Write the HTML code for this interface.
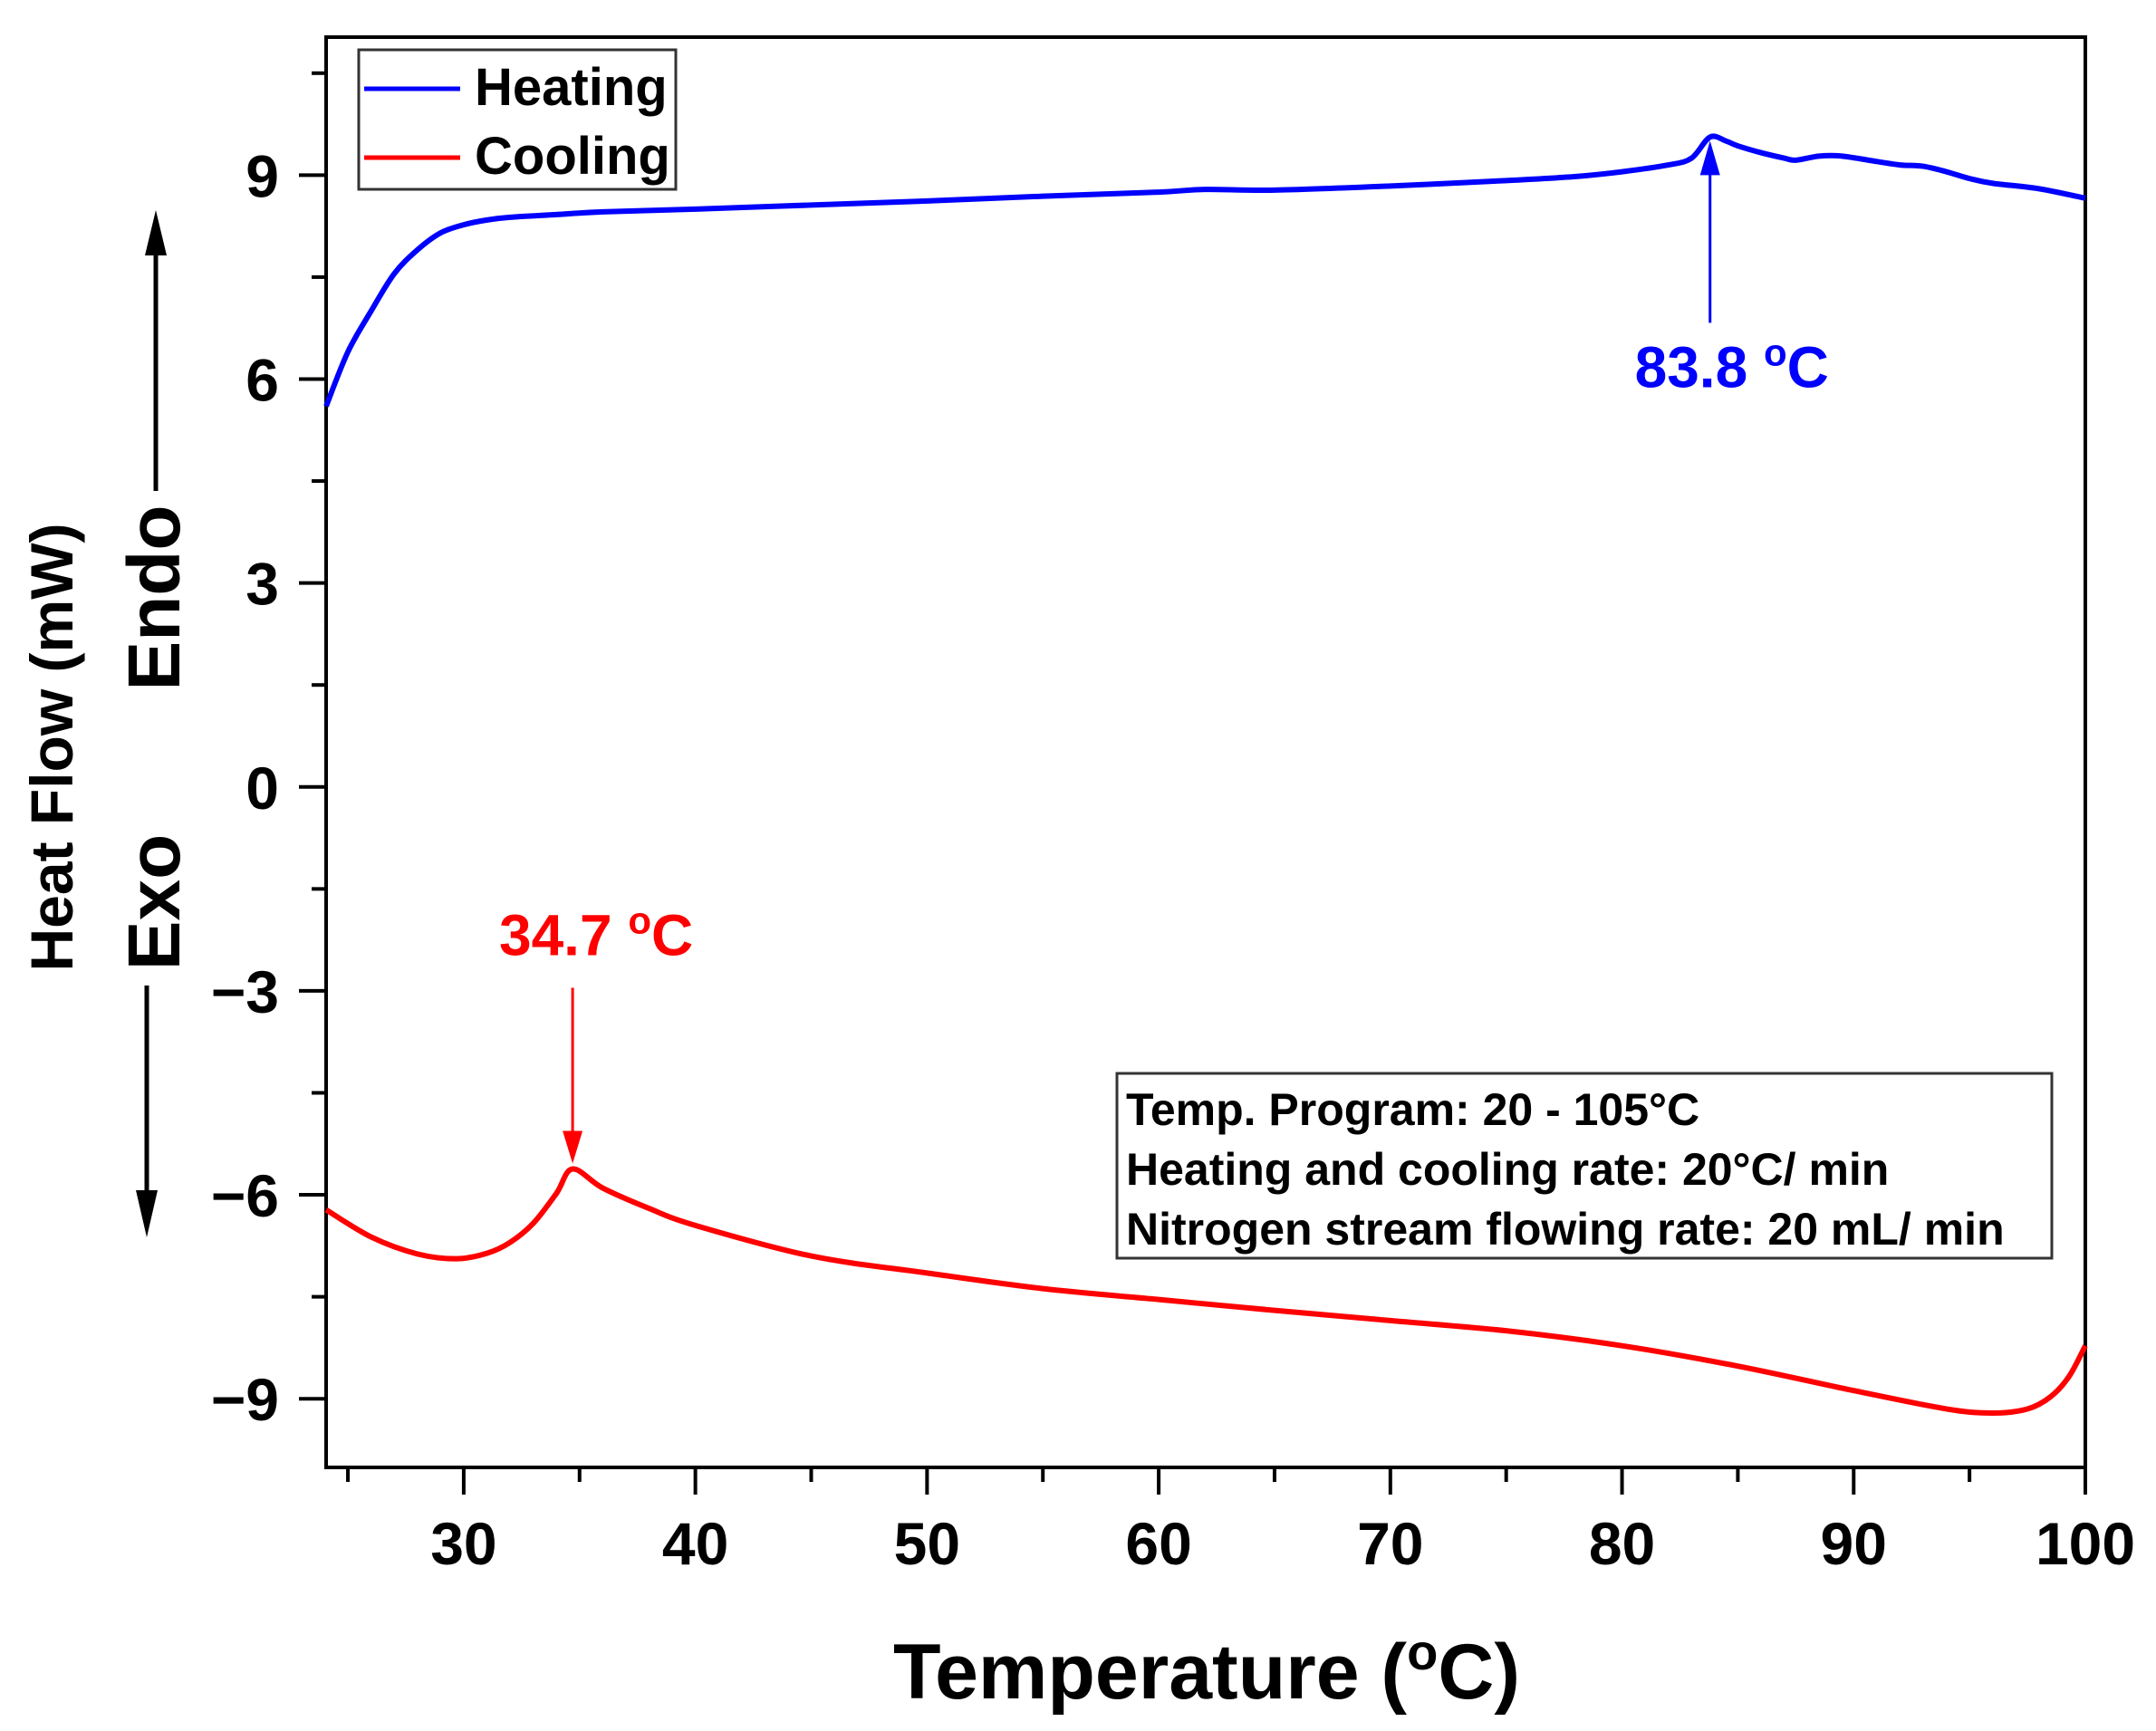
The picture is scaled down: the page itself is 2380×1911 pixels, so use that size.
<!DOCTYPE html>
<html><head><meta charset="utf-8"><style>
html,body{margin:0;padding:0;background:#fff;}
svg{display:block;font-family:"Liberation Sans",Arial,sans-serif;font-weight:bold;}
</style></head><body>
<svg id="chart" width="2380" height="1911" viewBox="0 0 2380 1911" xmlns="http://www.w3.org/2000/svg">
<g id="plot"></g>
<text x="1332" y="1875" font-size="86" text-anchor="middle">Temperature (<tspan font-size="56" dy="-32">o</tspan><tspan dy="32">C)</tspan></text>
<text transform="translate(80,825) rotate(-90)" font-size="66" text-anchor="middle">Heat Flow (mW)</text>
<text transform="translate(198,660) rotate(-90)" font-size="82" text-anchor="middle">Endo</text>
<text transform="translate(198,996) rotate(-90)" font-size="82" text-anchor="middle">Exo</text>
<g>
<line x1="172" y1="542" x2="172" y2="270" stroke="#000" stroke-width="5"/>
<path d="M160,282 L172,232 L184,282 Z" fill="#000"/>
</g>
<g>
<line x1="162" y1="1088" x2="162" y2="1325" stroke="#000" stroke-width="5"/>
<path d="M150,1314 L162,1366 L174,1314 Z" fill="#000"/>
</g>
<g>
<rect x="396" y="55" width="350" height="154" fill="#fff" stroke="#333" stroke-width="3"/>
<line x1="402" y1="98" x2="508" y2="98" stroke="#0000ff" stroke-width="5"/>
<text x="524" y="116" font-size="58">Heating</text>
<line x1="402" y1="174" x2="508" y2="174" stroke="#ff0000" stroke-width="5"/>
<text x="524" y="192" font-size="58">Cooling</text>
</g>
<g>
<rect x="1233" y="1185" width="1032" height="204" fill="#fff" stroke="#333" stroke-width="3"/>
<text x="1243" y="1242" font-size="50">Temp. Program: 20 - 105°C</text>
<text x="1243" y="1308" font-size="50">Heating and cooling rate: 20°C/ min</text>
<text x="1243" y="1374" font-size="50">Nitrogen stream flowing rate: 20 mL/ min</text>
</g>
</svg>
<script>
const heatX=[24.06,25,26,27,28,29,30,31,32,34,36,40,45,50,55,60,62,65,70,75,78,80,82,83,83.8,84.5,85,86,87,87.5,88.5,89.5,91,92,93,94,95,96,98,100];
const heatY=[5.6,6.4,7.0,7.55,7.9,8.15,8.27,8.34,8.38,8.42,8.46,8.5,8.56,8.62,8.69,8.75,8.79,8.78,8.84,8.92,8.98,9.05,9.15,9.25,9.56,9.5,9.43,9.33,9.25,9.22,9.28,9.28,9.2,9.15,9.13,9.05,8.95,8.88,8.8,8.66];
const coolX=[24.06,26,28,29.7,31,32,33,34,34.7,36,38,40,45,50,55,60,65,70,75,80,85,90,94,96,97.5,98.5,99.3,100];
const coolY=[-6.22,-6.62,-6.87,-6.94,-6.86,-6.7,-6.42,-5.98,-5.62,-5.9,-6.2,-6.45,-6.9,-7.15,-7.38,-7.54,-7.7,-7.85,-8.0,-8.22,-8.52,-8.88,-9.15,-9.21,-9.15,-8.97,-8.67,-8.22];
const xTicks=[30,40,50,60,70,80,90,100];
const xTickLabels=["30","40","50","60","70","80","90","100"];
const yTicks=[9,6,3,0,-3,-6,-9];
const yTickLabels=["9","6","3","0","\u22123","\u22126","\u22129"];
const peakHeat=[83.8,9.56];
const peakCool=[34.7,-5.62];
const X0=360,X1=2302,Y0=41,Y1=1620,XMIN=24.06,XMAX=100,YMIN=-10.01,YMAX=11.03;
const sx=v=>X0+(v-XMIN)/(XMAX-XMIN)*(X1-X0);
const sy=v=>Y1-(v-YMIN)/(YMAX-YMIN)*(Y1-Y0);
const NS="http://www.w3.org/2000/svg";
const g=document.getElementById('plot');
function mk(t,a){const e=document.createElementNS(NS,t);for(const k in a)e.setAttribute(k,a[k]);g.appendChild(e);return e;}
function pathFrom(xs,ys){const p=xs.map((x,i)=>[sx(x),sy(ys[i])]);let d="M"+p[0][0]+","+p[0][1];
for(let i=0;i<p.length-1;i++){const a=p[Math.max(0,i-1)],b=p[i],c=p[i+1],e=p[Math.min(p.length-1,i+2)];
const c1=[b[0]+(c[0]-a[0])/6,b[1]+(c[1]-a[1])/6],c2=[c[0]-(e[0]-b[0])/6,c[1]-(e[1]-b[1])/6];
d+=" C"+c1[0]+","+c1[1]+" "+c2[0]+","+c2[1]+" "+c[0]+","+c[1];}return d;}
const fr=mk('rect',{x:X0,y:Y0,width:X1-X0,height:Y1-Y0,fill:'none',stroke:'#000','stroke-width':4});


for(let v=25;v<=100;v+=5){const major=v%10===0;const t=mk('line',{x1:sx(v),x2:sx(v),y1:Y1,y2:Y1+(major?30:16),stroke:'#000','stroke-width':4});

}
xTicks.forEach((v,i)=>{const t=mk('text',{x:sx(v),y:1727,'font-size':66,'text-anchor':'middle'});t.textContent=xTickLabels[i];

});
for(let v=-9;v<=10.5;v+=1.5){const major=Math.abs(v%3)<1e-6;const t=mk('line',{x1:X0,x2:X0-(major?30:16),y1:sy(v),y2:sy(v),stroke:'#000','stroke-width':4});

}
yTicks.forEach((v,i)=>{const t=mk('text',{x:308,y:sy(v)+24,'font-size':66,'text-anchor':'end'});t.textContent=yTickLabels[i];

});
const h=mk('path',{d:pathFrom(heatX,heatY),fill:'none',stroke:'#0000ff','stroke-width':6,'stroke-linejoin':'round'});


const c=mk('path',{d:pathFrom(coolX,coolY),fill:'none',stroke:'#ff0000','stroke-width':6,'stroke-linejoin':'round'});


const hx=sx(peakHeat[0]),hy=sy(peakHeat[1]);
const ha=mk('line',{x1:hx,y1:hy+205,x2:hx,y2:hy+40,stroke:'#0000ff','stroke-width':3});


const hh=mk('path',{d:`M${hx-11},${hy+42} L${hx},${hy+4} L${hx+11},${hy+42} Z`,fill:'#0000ff'});


const ht=mk('text',{x:hx+24,y:hy+276,'font-size':64,'text-anchor':'middle',fill:'#0000ff'});
ht.innerHTML='83.8 <tspan font-size="42" dy="-24">o</tspan><tspan dy="24">C</tspan>';


const cx=sx(peakCool[0]),cy=sy(peakCool[1]);
const ca=mk('line',{x1:cx,y1:cy-200,x2:cx,y2:cy-36,stroke:'#ff0000','stroke-width':3});


const ch=mk('path',{d:`M${cx-11},${cy-42} L${cx},${cy-6} L${cx+11},${cy-42} Z`,fill:'#ff0000'});


const ct=mk('text',{x:cx+26,y:cy-236,'font-size':64,'text-anchor':'middle',fill:'#ff0000'});
ct.innerHTML='34.7 <tspan font-size="42" dy="-24">o</tspan><tspan dy="24">C</tspan>';


</script>
</body></html>
